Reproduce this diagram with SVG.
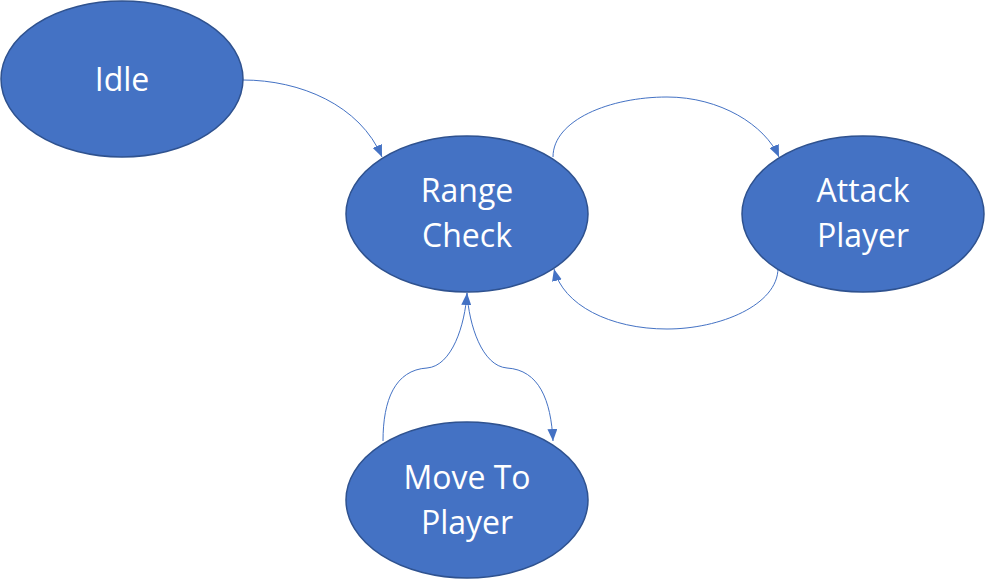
<svg xmlns="http://www.w3.org/2000/svg" width="986" height="579" viewBox="0 0 986 579">
<style>
.node{fill:#4472C4;stroke:#2F528F;stroke-width:1.5}
.lbl{fill:#fff;font-family:"Open Sans","Liberation Sans",sans-serif;font-size:32px;text-anchor:middle}
.edge{fill:none;stroke:#4472C4;stroke-width:1}
</style>
<defs>
<marker id="ah" viewBox="0 0 12 10" refX="12" refY="5" markerWidth="12" markerHeight="10" markerUnits="userSpaceOnUse" orient="auto">
<path d="M0,0 L12,5 L0,10 Z" fill="#4472C4"/>
</marker>
</defs>
<rect width="986" height="579" fill="#fff"/>
<g id="connectors">
<path class="edge" marker-end="url(#ah)" d="M243,80 C300,80 360,105 382,157"/>
<path class="edge" marker-end="url(#ah)" d="M553,157 C553,120 610,97 667,97 C720,97 765,125 779,157"/>
<path class="edge" marker-end="url(#ah)" d="M778,268 C778,305 720,329 667,329 C610,329 563,305 554,269"/>
<path class="edge" marker-end="url(#ah)" d="M383,441 C383,400 395,370 427,368 C452,366 465,325 467,293"/>
<path class="edge" marker-end="url(#ah)" d="M467,293 C469,325 482,366 507,368 C539,370 551,400 553,441"/>
</g>
<g id="idle">
<ellipse class="node" cx="122" cy="79" rx="121" ry="78"/>
<text class="lbl" x="122" y="91">Idle</text>
</g>
<g id="range-check">
<ellipse class="node" cx="467" cy="214" rx="121" ry="78"/>
<text class="lbl" x="467" y="202">Range</text>
<text class="lbl" x="467" y="247">Check</text>
</g>
<g id="attack-player">
<ellipse class="node" cx="863" cy="214" rx="121" ry="78"/>
<text class="lbl" x="863" y="202">Attack</text>
<text class="lbl" x="863" y="247">Player</text>
</g>
<g id="move-to-player">
<ellipse class="node" cx="467" cy="500" rx="121" ry="78"/>
<text class="lbl" x="467" y="489">Move To</text>
<text class="lbl" x="467" y="534">Player</text>
</g>
</svg>
